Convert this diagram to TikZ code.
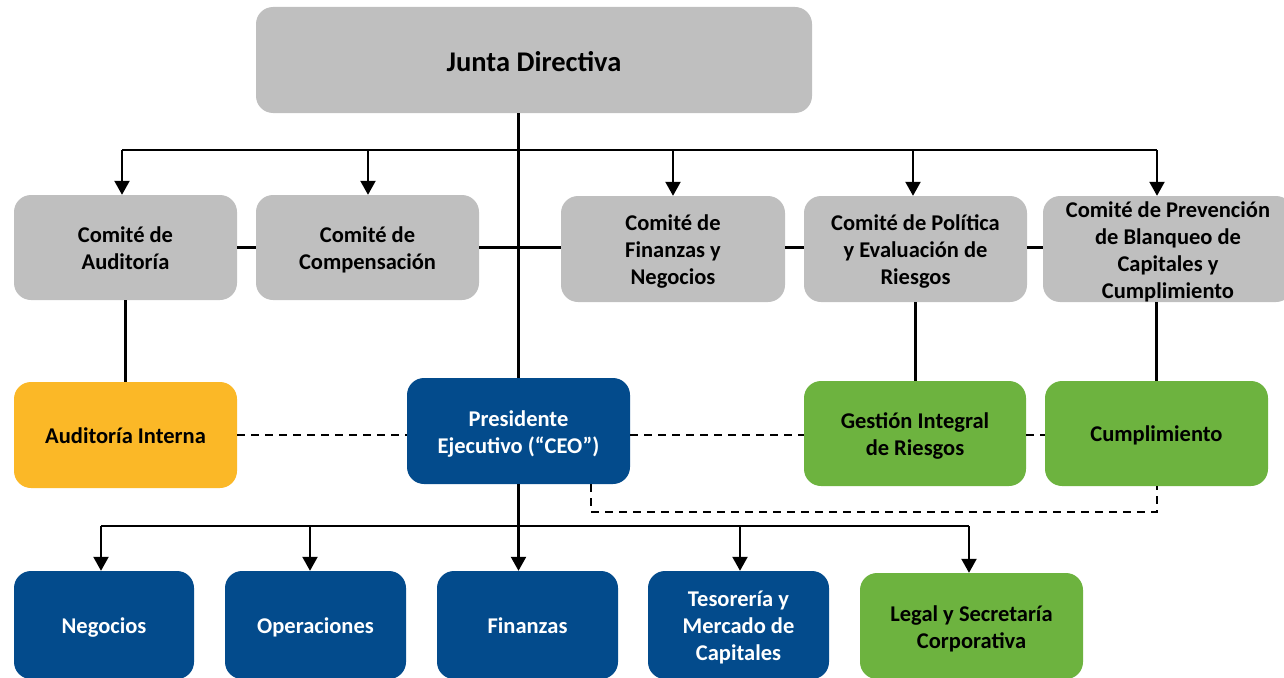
\documentclass[tikz,border=0pt]{standalone}
\usepackage{fontspec}
\setmainfont{Carlito}
\usetikzlibrary{arrows.meta}
\definecolor{boxgray}{HTML}{BFBFBF}
\definecolor{boxblue}{HTML}{034B8C}
\definecolor{boxorange}{HTML}{FBB827}
\definecolor{boxgreen}{HTML}{6DB33F}
\begin{document}
\begin{tikzpicture}[x=1pt,y=-1pt,
  box/.style={rounded corners=17pt, inner sep=0pt},
  graybox/.style={box, fill=boxgray},
  bluebox/.style={box, fill=boxblue},
  orangebox/.style={box, fill=boxorange},
  greenbox/.style={box, fill=boxgreen},
  btext/.style={align=center, inner sep=0pt,
    font=\bfseries\fontsize{22.5}{27}\selectfont,
    execute at begin node={\strut}, execute at end node={\strut}},
  dark/.style={btext, text=black},
  light/.style={btext, text=white},
  multi/.style={yshift=-5pt},
  single/.style={yshift=-3pt},
  conn/.style={line width=2.2pt, draw=black},
  arr/.style={conn, -{Triangle[width=15pt,length=14pt]}},
  dline/.style={line width=1.6pt, draw=black, dash pattern=on 8pt off 6pt}
]
\useasboundingbox (0,0) rectangle (1284,677);
\clip (0,0) rectangle (1284,677);
% boxes
\node[graybox, minimum width=556pt, minimum height=106pt] (junta) at (534,60) {};
\node[graybox, minimum width=223pt, minimum height=105pt] (audit) at (125.5,247.5) {};
\node[graybox, minimum width=223pt, minimum height=105pt] (comp) at (367.5,247.5) {};
\node[graybox, minimum width=224pt, minimum height=106pt] (fin) at (673,249) {};
\node[graybox, minimum width=223pt, minimum height=106pt] (pol) at (915.5,249) {};
\node[graybox, minimum width=250pt, minimum height=106pt] (prev) at (1168,249) {};
\node[orangebox, minimum width=223pt, minimum height=106pt] (ai) at (125.5,435) {};
\node[bluebox, minimum width=223pt, minimum height=106pt] (ceo) at (518.5,431) {};
\node[greenbox, minimum width=222pt, minimum height=105pt] (gir) at (915,433.5) {};
\node[greenbox, minimum width=223pt, minimum height=105pt] (cum) at (1156.5,433.5) {};
\node[bluebox, minimum width=180pt, minimum height=108pt] (neg) at (104,625) {};
\node[bluebox, minimum width=181pt, minimum height=108pt] (ope) at (315.5,625) {};
\node[bluebox, minimum width=181pt, minimum height=108pt] (finz) at (527.5,625) {};
\node[bluebox, minimum width=181pt, minimum height=108pt] (tes) at (738.5,625) {};
\node[greenbox, minimum width=223pt, minimum height=106pt] (leg) at (971.5,626) {};
% texts
\node[dark, font=\bfseries\fontsize{28.5}{32}\selectfont, yshift=-5pt] (juntaT) at (junta.center) {Junta Directiva};
\node[dark, multi] (auditT) at (audit.center) {Comité de\\Auditoría};
\node[dark, multi] (compT) at (comp.center) {Comité de\\Compensación};
\node[dark, multi] (finT) at (fin.center) {Comité de\\Finanzas y\\Negocios};
\node[dark, multi] (polT) at (pol.center) {Comité de Política\\y Evaluación de\\Riesgos};
\node[dark, multi] (prevT) at (prev.center) {Comité de Prevención\\de Blanqueo de\\Capitales y\\Cumplimiento};
\node[dark, single] (aiT) at (ai.center) {Auditoría Interna};
\node[light, multi] (ceoT) at (ceo.center) {Presidente\\Ejecutivo (“CEO”)};
\node[dark, multi] (girT) at (gir.center) {Gestión Integral\\de Riesgos};
\node[dark, single] (cumT) at (cum.center) {Cumplimiento};
\node[light, single] (negT) at (neg.center) {Negocios};
\node[light, single] (opeT) at (ope.center) {Operaciones};
\node[light, single] (finzT) at (finz.center) {Finanzas};
\node[light, multi] (tesT) at (tes.center) {Tesorería y\\Mercado de\\Capitales};
\node[dark, multi] (legT) at (leg.center) {Legal y Secretaría\\Corporativa};
% bus coordinates
\coordinate (t1) at (122,150);
\coordinate (t2) at (368,150);
\coordinate (t3) at (673,150);
\coordinate (t4) at (913,150);
\coordinate (t5) at (1157,150);
\coordinate (b1) at (101,526);
\coordinate (b2) at (310,526);
\coordinate (b3) at (518.5,526);
\coordinate (b4) at (740,526);
\coordinate (b5) at (969,526);
\coordinate (dA) at (591,512);
\coordinate (dB) at (1157,512);
% top connections
\draw[conn] (ceo.north |- junta.south) -- (ceo.north);
\draw[conn] (t1) -- (t5);
\draw[arr] (t1) -- (t1 |- audit.north);
\draw[arr] (t2) -- (t2 |- comp.north);
\draw[arr] (t3) -- (t3 |- fin.north);
\draw[arr] (t4) -- (t4 |- pol.north);
\draw[arr] (t5) -- (t5 |- prev.north);
% committee row line
\draw[conn] (audit.east) -- (comp.west);
\draw[conn] (comp.east) -- (comp.east -| fin.west);
\draw[conn] (fin.east |- comp.east) -- (pol.west |- comp.east);
\draw[conn] (pol.east |- comp.east) -- (prev.west |- comp.east);
% verticals
\draw[conn] (audit.south) -- (ai.north);
\draw[conn] (pol.south) -- (pol.south |- gir.north);
\draw[conn] (cum.north |- prev.south) -- (cum.north);
% dashed
\draw[dline] (ai.east) -- (ai.east -| ceo.west);
\draw[dline] (ceo.east |- ai.east) -- (gir.west |- ai.east);
\draw[dline] (gir.east |- ai.east) -- (cum.west |- ai.east);
\draw[dline] (dA |- ceo.south) -- (dA) -- (dB) -- (dB |- cum.south);
% bottom
\draw[conn] (ceo.south) -- (b3);
\draw[conn] (b1) -- (b5);
\draw[arr] (b1) -- (b1 |- neg.north);
\draw[arr] (b2) -- (b2 |- ope.north);
\draw[arr] (b3) -- (b3 |- finz.north);
\draw[arr] (b4) -- (b4 |- tes.north);
\draw[arr] (b5) -- (b5 |- leg.north);
\end{tikzpicture}
\end{document}
